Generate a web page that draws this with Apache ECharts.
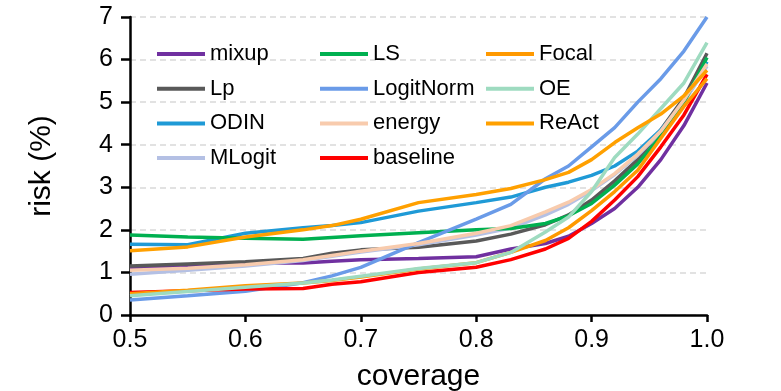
<!DOCTYPE html>
<html>
<head>
<meta charset="utf-8">
<script src="https://cdn.jsdelivr.net/npm/echarts@6/dist/echarts.min.js"></script>
<style>
html,body{margin:0;padding:0;background:#fff;}
#container{width:781px;height:391px;}
</style>
</head>
<body>
<div id="container"></div>
<script>
// coverage values (x)
var coverage = [0.50,0.55,0.60,0.65,0.675,0.70,0.75,0.80,0.83,0.86,0.88,0.90,0.92,0.94,0.96,0.98,1.00];

// risk (%) per method
var mixup     = [1.10,1.15,1.22,1.22,1.26,1.30,1.33,1.37,1.55,1.68,1.85,2.15,2.50,3.00,3.65,4.45,5.45];
var Lp        = [1.15,1.20,1.25,1.33,1.45,1.53,1.59,1.74,1.90,2.12,2.35,2.70,3.15,3.65,4.35,5.10,6.15];
var ODIN      = [1.66,1.65,1.92,2.05,2.10,2.17,2.44,2.64,2.77,3.00,3.12,3.28,3.50,3.85,4.35,5.00,5.95];
var MLogit    = [0.96,1.05,1.15,1.28,1.38,1.48,1.65,1.88,2.04,2.35,2.60,2.92,3.30,3.75,4.30,5.00,5.85];
var LS        = [1.88,1.83,1.80,1.78,1.82,1.86,1.93,2.00,2.03,2.15,2.33,2.62,3.05,3.55,4.20,5.00,6.05];
var LogitNorm = [0.35,0.45,0.56,0.76,0.92,1.12,1.70,2.25,2.60,3.20,3.50,3.95,4.40,5.00,5.55,6.20,7.00];
var energy    = [1.05,1.10,1.18,1.30,1.40,1.50,1.68,1.92,2.10,2.42,2.65,2.95,3.32,3.78,4.32,5.05,5.90];
var baseline  = [0.53,0.57,0.61,0.62,0.72,0.78,1.00,1.12,1.30,1.55,1.80,2.20,2.70,3.25,3.95,4.70,5.65];
var Focal     = [0.50,0.58,0.69,0.75,0.81,0.89,1.08,1.23,1.47,1.75,2.05,2.45,2.90,3.40,4.15,4.90,5.55];
var OE        = [0.45,0.55,0.65,0.75,0.82,0.91,1.09,1.23,1.47,1.95,2.30,2.90,3.70,4.25,4.85,5.45,6.40];
var ReAct     = [1.51,1.60,1.83,2.00,2.10,2.25,2.64,2.83,2.97,3.18,3.35,3.65,4.05,4.40,4.72,5.15,5.75];

var names  = ['mixup','Lp','ODIN','MLogit','LS','LogitNorm','energy','baseline','Focal','OE','ReAct'];
var values = [mixup,Lp,ODIN,MLogit,LS,LogitNorm,energy,baseline,Focal,OE,ReAct];
var colors = ['#7030a0','#595959','#1f9ad6','#b4c0e4','#00b050','#6a9be8','#f8cbad','#ff0000','#ff9900','#9edbc0','#ffa000'];

var font = '"Liberation Sans", Arial, sans-serif';

function pairs(arr){
	var out = [];
	for(var i=0;i<coverage.length;i++){
		out.push([coverage[i], arr[i]]);
	}
	return out;
}

var series = [];
for(var i=0;i<names.length;i++){
	series.push({
		name: names[i],
		type: 'line',
		showSymbol: false,
		symbol: 'none',
		color: colors[i],
		lineStyle: {width: 3.5, color: colors[i]},
		data: pairs(values[i])
	});
}

function legendCol(left, data){
	return {
		orient: 'vertical',
		left: left,
		top: 42,
		icon: 'rect',
		itemWidth: 48,
		itemHeight: 4,
		itemGap: 10.7,
		padding: 0,
		textStyle: {fontSize: 22, fontFamily: font, color: '#000', lineHeight: 24},
		data: data
	};
}

var myChart = echarts.init(document.getElementById('container'));
var option = {
	animation: false,
	backgroundColor: '#fff',
	grid: {left: 130, right: 74, top: 17, bottom: 76, containLabel: false, outerBoundsMode: 'none'},
	legend: [
		legendCol(157, ['mixup','Lp','ODIN','MLogit']),
		legendCol(320, ['LS','LogitNorm','energy','baseline']),
		legendCol(486, ['Focal','OE','ReAct'])
	],
	xAxis: {
		type: 'value',
		min: 0.5,
		max: 1.0,
		interval: 0.1,
		name: 'coverage',
		nameLocation: 'middle',
		nameGap: 47,
		nameTextStyle: {fontSize: 30, fontFamily: font, color: '#000'},
		axisLine: {show: true, lineStyle: {color: '#000', width: 2.5}},
		axisTick: {show: true, inside: false, length: 7, lineStyle: {color: '#000', width: 2.5}},
		axisLabel: {fontSize: 25, fontFamily: font, color: '#000', margin: 13,
			formatter: function(v){ return v.toFixed(1); }},
		splitLine: {show: false}
	},
	yAxis: {
		type: 'value',
		min: 0,
		max: 7,
		interval: 1,
		name: 'risk (%)',
		nameLocation: 'middle',
		nameGap: 73,
		nameTextStyle: {fontSize: 30, fontFamily: font, color: '#000'},
		axisLine: {show: true, lineStyle: {color: '#000', width: 2.5}},
		axisTick: {show: true, inside: false, length: 9, lineStyle: {color: '#000', width: 2.5}},
		axisLabel: {fontSize: 25, fontFamily: font, color: '#000', margin: 17},
		splitLine: {show: true, lineStyle: {color: '#d9d9d9', width: 1.5, type: [6, 4]}}
	},
	series: series
};
myChart.setOption(option);
</script>
</body>
</html>
